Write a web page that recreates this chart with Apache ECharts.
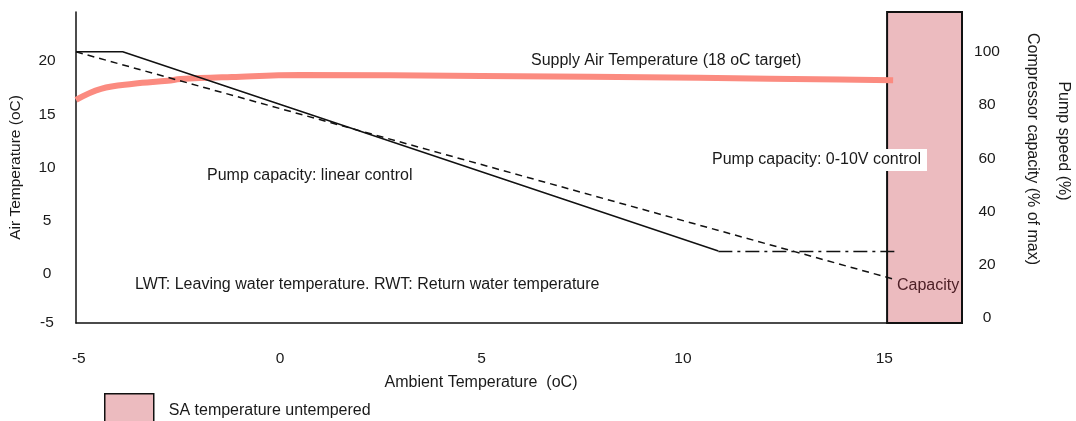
<!DOCTYPE html>
<html>
<head>
<meta charset="utf-8">
<script src="https://cdn.jsdelivr.net/npm/echarts@6/dist/echarts.min.js"></script>
<style>
  html, body { margin: 0; padding: 0; background: #fff; }
  #chart { width: 1076px; height: 421px; }
</style>
</head>
<body>
<div id="chart"></div>
<script>
// data
var xTicks = [-5, 0, 5, 10, 15];
var airTicks = [-4.6, 0, 5, 10, 15, 20];     // lowest tick is shown as "-5"
var capTicks = [0, 20, 40, 60, 80, 100];

var linearX = [-5.07, -3.91, 10.88];
var linearY = [20.86, 20.86, 2.16];
var voltX = [10.88, 15.27];
var voltY = [2.12, 2.12];
var dashedX = [-5.07, 15.22];
var dashedY = [20.86, -0.47];
var supplyX = [-5.07, -4.45, -3.64, -2.79, -2.47, -1.2, 0.5, 5, 10.4, 13.9, 15.22];
var supplyY = [16.35, 17.39, 17.86, 18.14, 18.3, 18.5, 18.68, 18.6, 18.42, 18.26, 18.2];
var bandX = [15.07, 16.93];

var X_MIN = -5.07, X_MAX = 16.93;
var Y_MIN = -4.6, Y_MAX = 24.6;
var FONT = 'Liberation Sans, Arial, sans-serif';
var FS = 16;

function pairs(xs, ys) {
    return xs.map(function (x, i) { return [x, ys[i]]; });
}

var chart = echarts.init(document.getElementById('chart'));

var option = {
    animation: false,
    textStyle: { fontFamily: FONT },
    grid: { left: 76, right: 114, top: 12, bottom: 98, outerBoundsMode: 'none', containLabel: false },
    legend: {
        left: 104, top: 393, padding: 0,
        itemWidth: 49, itemHeight: 34,
        data: [{ name: 'SA temperature untempered', icon: 'rect' }],
        itemStyle: { color: '#ecbbbf', borderColor: '#111', borderWidth: 1.5 },
        textStyle: { fontSize: FS, color: '#1a1a1a', padding: [0, 0, 0, 10], fontFamily: FONT }
    },
    xAxis: {
        type: 'value', min: X_MIN, max: X_MAX,
        axisLine: { onZero: false, lineStyle: { color: '#111', width: 1.5 } },
        axisTick: { show: false },
        splitLine: { show: false },
        axisLabel: { customValues: xTicks, margin: 28, fontSize: 15.5, color: '#1a1a1a' }
    },
    yAxis: [{
        type: 'value', min: Y_MIN, max: Y_MAX,
        axisLine: { show: true, onZero: false, lineStyle: { color: '#111', width: 1.5 } },
        axisTick: { show: false },
        splitLine: { show: false },
        axisLabel: {
            customValues: airTicks, margin: 29, align: 'center', fontSize: 15.5, color: '#1a1a1a',
            formatter: function (v) { return v < -4 ? '-5' : String(v); }
        },
        name: 'Air Temperature (oC)', nameLocation: 'middle', nameRotate: 90, nameGap: 52,
        nameTextStyle: { fontSize: 15.5, color: '#1a1a1a' }
    }, {
        type: 'value', min: -1.9, max: 115, position: 'right',
        axisLine: { show: false, onZero: false },
        axisTick: { show: false },
        splitLine: { show: false },
        axisLabel: { customValues: capTicks, margin: 25, align: 'center', fontSize: 15.5, color: '#1a1a1a' }
    }],
    series: [{
        name: 'SA temperature untempered',
        type: 'custom', z: 1, clip: false,
        itemStyle: { color: '#ecbbbf', borderColor: '#111', borderWidth: 1.5 },
        data: [bandX],
        renderItem: function (params, api) {
            var p0 = api.coord([api.value(0), Y_MAX]);
            var p1 = api.coord([api.value(1), Y_MIN]);
            return {
                type: 'rect',
                shape: { x: p0[0], y: p0[1], width: p1[0] - p0[0], height: p1[1] - p0[1] },
                style: { fill: '#ecbbbf', stroke: '#111', lineWidth: 2 }
            };
        }
    }, {
        name: 'Supply air', type: 'line', z: 3, smooth: 0.4, symbol: 'none',
        data: pairs(supplyX, supplyY),
        lineStyle: { color: '#fb8b80', width: 6 }
    }, {
        name: 'Linear', type: 'line', z: 4, symbol: 'none',
        data: pairs(linearX, linearY),
        lineStyle: { color: '#111', width: 1.5 }
    }, {
        name: '0-10V', type: 'line', z: 4, symbol: 'none',
        data: pairs(voltX, voltY),
        lineStyle: { color: '#111', width: 1.6, type: [14, 5, 3, 5] }
    }, {
        name: 'Dashed', type: 'line', z: 4, symbol: 'none',
        data: pairs(dashedX, dashedY),
        lineStyle: { color: '#111', width: 1.5, type: [7, 5] }
    }],
    graphic: [
        { type: 'text', x: 531, y: 61, z: 10, style: { text: 'Supply Air Temperature (18 oC target)', font: FS + 'px ' + FONT, fill: '#1a1a1a', verticalAlign: 'middle' } },
        { type: 'text', x: 207, y: 176, z: 10, style: { text: 'Pump capacity: linear control', font: FS + 'px ' + FONT, fill: '#1a1a1a', verticalAlign: 'middle' } },
        { type: 'text', x: 135, y: 285, z: 10, style: { text: 'LWT: Leaving water temperature. RWT: Return water temperature', font: FS + 'px ' + FONT, fill: '#1a1a1a', verticalAlign: 'middle' } },
        { type: 'text', x: 710, y: 160, z: 10, style: { text: 'Pump capacity: 0-10V control', font: FS + 'px ' + FONT, fill: '#1a1a1a', verticalAlign: 'middle', backgroundColor: '#fff', padding: [3, 6, 3, 2] } },
        { type: 'text', x: 897, y: 286, z: 10, style: { text: 'Capacity', font: FS + 'px ' + FONT, fill: '#4e2027', verticalAlign: 'middle' } },
        { type: 'text', x: 481, y: 383, z: 10, style: { text: 'Ambient Temperature  (oC)', font: FS + 'px ' + FONT, fill: '#1a1a1a', align: 'center', verticalAlign: 'middle' } },
        { type: 'text', x: 1032, y: 149, rotation: -Math.PI / 2, z: 10, style: { text: 'Compressor capacity (% of max)', font: FS + 'px ' + FONT, fill: '#1a1a1a', align: 'center', verticalAlign: 'middle' } },
        { type: 'text', x: 1063, y: 141, rotation: -Math.PI / 2, z: 10, style: { text: 'Pump speed (%)', font: FS + 'px ' + FONT, fill: '#1a1a1a', align: 'center', verticalAlign: 'middle' } }
    ]
};

chart.setOption(option);
</script>
</body>
</html>
